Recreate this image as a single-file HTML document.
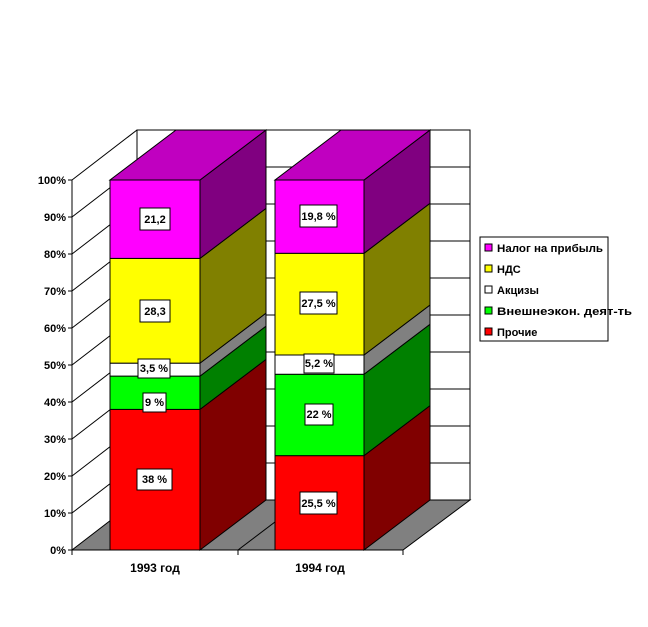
<!DOCTYPE html>
<html><head><meta charset="utf-8"><style>
body{margin:0;background:#fff}
svg{display:block}
text{font-family:"Liberation Sans",Arial,sans-serif;font-size:11px;font-weight:bold;fill:#000}
</style></head><body>
<svg width="648" height="627" viewBox="0 0 648 627" xmlns="http://www.w3.org/2000/svg" stroke-linejoin="miter">
<rect x="137" y="130" width="333" height="370" fill="#fff" stroke="#000"/>
<g stroke="#000" stroke-width="1">
<line x1="137" y1="167" x2="470" y2="167"/><line x1="137" y1="204" x2="470" y2="204"/>
<line x1="137" y1="241" x2="470" y2="241"/><line x1="137" y1="278" x2="470" y2="278"/>
<line x1="137" y1="315" x2="470" y2="315"/><line x1="137" y1="352" x2="470" y2="352"/>
<line x1="137" y1="389" x2="470" y2="389"/><line x1="137" y1="426" x2="470" y2="426"/>
<line x1="137" y1="463" x2="470" y2="463"/>
<line x1="72" y1="180" x2="137" y2="130"/><line x1="72" y1="217" x2="137" y2="167"/>
<line x1="72" y1="254" x2="137" y2="204"/><line x1="72" y1="291" x2="137" y2="241"/>
<line x1="72" y1="328" x2="137" y2="278"/><line x1="72" y1="365" x2="137" y2="315"/>
<line x1="72" y1="402" x2="137" y2="352"/><line x1="72" y1="439" x2="137" y2="389"/>
<line x1="72" y1="476" x2="137" y2="426"/><line x1="72" y1="513" x2="137" y2="463"/>
</g>
<polygon points="72,550 403,550 470,500 137,500" fill="#808080" stroke="#000"/>
<line x1="238" y1="550" x2="304" y2="500" stroke="#000"/>
<g stroke="#000">
<line x1="72" y1="180" x2="72" y2="550"/>
<line x1="68" y1="180" x2="72" y2="180"/><line x1="68" y1="217" x2="72" y2="217"/>
<line x1="68" y1="254" x2="72" y2="254"/><line x1="68" y1="291" x2="72" y2="291"/>
<line x1="68" y1="328" x2="72" y2="328"/><line x1="68" y1="365" x2="72" y2="365"/>
<line x1="68" y1="402" x2="72" y2="402"/><line x1="68" y1="439" x2="72" y2="439"/>
<line x1="68" y1="476" x2="72" y2="476"/><line x1="68" y1="513" x2="72" y2="513"/>
<line x1="68" y1="550" x2="72" y2="550"/>
<line x1="72" y1="550" x2="403" y2="550"/>
<line x1="72" y1="550" x2="72" y2="555"/><line x1="238" y1="550" x2="238" y2="555"/><line x1="403" y1="550" x2="403" y2="555"/>
</g>
<g text-anchor="end">
<text x="66" y="184">100%</text><text x="66" y="221">90%</text><text x="66" y="258">80%</text>
<text x="66" y="295">70%</text><text x="66" y="332">60%</text><text x="66" y="369">50%</text>
<text x="66" y="406">40%</text><text x="66" y="443">30%</text><text x="66" y="480">20%</text>
<text x="66" y="517">10%</text><text x="66" y="554">0%</text>
</g>
<text x="155" y="572" text-anchor="middle" style="font-size:12px">1993 год</text>
<text x="320" y="572" text-anchor="middle" style="font-size:12px">1994 год</text>

<g stroke="#000">
<polygon points="200,550 266,500 266,359.4 200,409.4" fill="#800000"/>
<polygon points="200,409.4 266,359.4 266,326.1 200,376.1" fill="#008000"/>
<polygon points="200,376.1 266,326.1 266,313.15 200,363.15" fill="#808080"/>
<polygon points="200,363.15 266,313.15 266,208.4 200,258.4" fill="#808000"/>
<polygon points="200,258.4 266,208.4 266,130 200,180" fill="#800080"/>
<polygon points="110,180 200,180 266,130 176,130" fill="#c000c0"/>
<rect x="110" y="409.4" width="90" height="140.6" fill="#ff0000"/>
<rect x="110" y="376.1" width="90" height="33.3" fill="#00ff00"/>
<rect x="110" y="363.15" width="90" height="12.95" fill="#ffffff"/>
<rect x="110" y="258.4" width="90" height="104.75" fill="#ffff00"/>
<rect x="110" y="180" width="90" height="78.4" fill="#ff00ff"/>
<polygon points="364,550 430,500 430,405.65 364,455.65" fill="#800000"/>
<polygon points="364,455.65 430,405.65 430,324.25 364,374.25" fill="#008000"/>
<polygon points="364,374.25 430,324.25 430,305 364,355" fill="#808080"/>
<polygon points="364,355 430,305 430,203.3 364,253.3" fill="#808000"/>
<polygon points="364,253.3 430,203.3 430,130 364,180" fill="#800080"/>
<polygon points="275,180 364,180 430,130 341,130" fill="#c000c0"/>
<rect x="275" y="455.65" width="89" height="94.35" fill="#ff0000"/>
<rect x="275" y="374.25" width="89" height="81.4" fill="#00ff00"/>
<rect x="275" y="355" width="89" height="19.25" fill="#ffffff"/>
<rect x="275" y="253.3" width="89" height="101.7" fill="#ffff00"/>
<rect x="275" y="180" width="89" height="73.3" fill="#ff00ff"/>
<rect x="140" y="208" width="30" height="22" fill="#fff"/>
<rect x="140" y="300" width="30" height="22" fill="#fff"/>
<rect x="138" y="359" width="32" height="19" fill="#fff"/>
<rect x="143" y="393" width="23" height="19" fill="#fff"/>
<rect x="137" y="469" width="35" height="21" fill="#fff"/>
<rect x="300" y="205" width="37" height="22" fill="#fff"/>
<rect x="300" y="292" width="37" height="22" fill="#fff"/>
<rect x="304" y="354" width="30" height="19" fill="#fff"/>
<rect x="305" y="404" width="28" height="21" fill="#fff"/>
<rect x="300" y="492" width="37" height="22" fill="#fff"/>
</g>
<g text-anchor="middle" style="font-size:10px">
<text x="155" y="223">21,2</text>
<text x="155" y="315">28,3</text>
<text x="154" y="372">3,5 %</text>
<text x="154.5" y="406">9 %</text>
<text x="154.5" y="483">38 %</text>
<text x="318.5" y="220">19,8 %</text>
<text x="318.5" y="307">27,5 %</text>
<text x="319" y="367">5,2 %</text>
<text x="319" y="418">22 %</text>
<text x="318.5" y="507">25,5 %</text>
</g>
<rect x="480" y="237" width="128" height="104" fill="#fff" stroke="#000"/>
<g stroke="#000">
<rect x="485" y="244" width="7" height="7" fill="#ff00ff"/>
<rect x="485" y="265" width="7" height="7" fill="#ffff00"/>
<rect x="485" y="286" width="7" height="7" fill="#ffffff"/>
<rect x="485" y="307" width="7" height="7" fill="#00ff00"/>
<rect x="485" y="328" width="7" height="7" fill="#ff0000"/>
</g>
<g>
<text x="497" y="252" textLength="106" lengthAdjust="spacingAndGlyphs">Налог на прибыль</text>
<text x="497" y="273">НДС</text>
<text x="497" y="294">Акцизы</text>
<text x="497" y="315" textLength="135" lengthAdjust="spacingAndGlyphs">Внешнеэкон. деят-ть</text>
<text x="497" y="336">Прочие</text>
</g>
</svg>
</body></html>
